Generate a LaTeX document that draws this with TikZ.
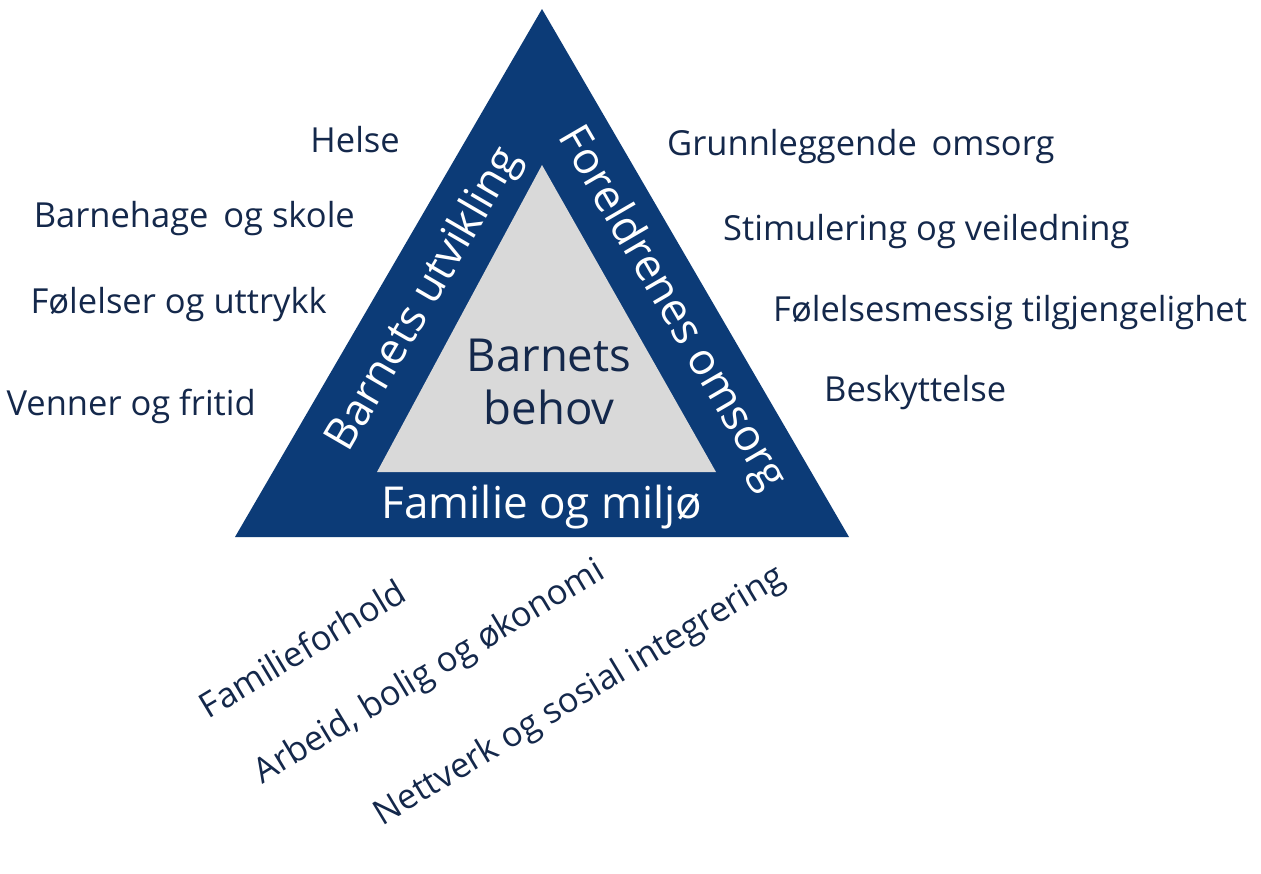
\documentclass[tikz,border=0pt]{standalone}
\usepackage{fontspec}
\setmainfont{Open Sans}
\definecolor{navy}{HTML}{0C3B77}
\definecolor{txt}{HTML}{14284B}
\definecolor{innergray}{HTML}{D9D9D9}
\tikzset{
  side/.style={text=txt, font=\fontsize{34.5}{40}\selectfont, inner sep=0pt},
  band/.style={text=white, font=\fontsize{44}{52}\selectfont, inner sep=0pt},
  tilted/.style={side, rotate=31, anchor=center},
}
\begin{document}
\begin{tikzpicture}[x=1pt,y=-1pt]
\useasboundingbox (0,0) rectangle (1261,873);
\fill[white] (0,0) rectangle (1261,873);
% triangles
\coordinate (A) at (542,9);
\coordinate (B) at (235,537);
\coordinate (C) at (849,537);
\coordinate (a) at (542,165);
\coordinate (b) at (377,472);
\coordinate (c) at (716,472);
\fill[navy] (A) -- (B) -- (C) -- cycle;
\fill[innergray] (a) -- (b) -- (c) -- cycle;
% band labels
\node[band, rotate=59.8] (utv) at (425,300) {Barnets utvikling};
\node[band, rotate=-59.8] (oms) at (671,309) {Foreldrenes omsorg};
\node[band] (fam) at (542,507) {Familie og miljø};
\node[text=txt, font=\fontsize{45.5}{53}\selectfont, align=center, inner sep=0pt] (beh) at (549,382) {Barnets\\behov};
% left labels
\node[side, anchor=base east] (l1) at (400,152) {Helse};
\node[side, anchor=base east] (l2) at (355,227) {Barnehage\, og skole};
\node[side, anchor=base east] (l3) at (327,313) {Følelser og uttrykk};
\node[side, anchor=base east] (l4) at (256,415) {Venner og fritid};
% right labels
\node[side, anchor=base west] (r1) at (667,155) {Grunnleggende\, omsorg};
\node[side, anchor=base west] (r2) at (723,240) {Stimulering og veiledning};
\node[side, anchor=base west] (r3) at (773,321) {Følelsesmessig tilgjengelighet};
\node[side, anchor=base west] (r4) at (824,401) {Beskyttelse};
% bottom tilted labels
\node[tilted] (b1) at (302,648) {Familieforhold};
\node[tilted] (b2) at (430,673) {Arbeid, bolig og økonomi};
\node[tilted] (b3) at (580,697) {Nettverk og sosial integrering};
\end{tikzpicture}
\end{document}
